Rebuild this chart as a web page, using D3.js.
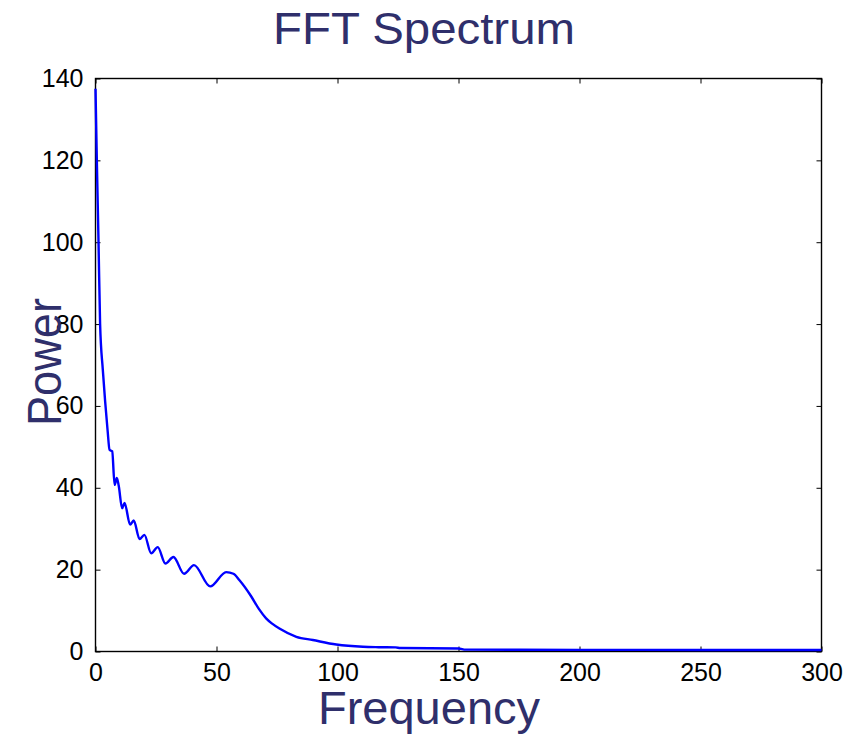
<!DOCTYPE html>
<html lang="en">
<head>
  <meta charset="UTF-8">
  <title>FFT Spectrum</title>
  <style>
    body { margin: 0; background: #fff; }
    svg text { font-family: 'Liberation Sans', Arial, sans-serif; }
  </style>
</head>
<body>
  <svg width="854" height="734"></svg>
  <script src="https://cdn.jsdelivr.net/npm/d3@7"></script>
  <script>
    // values
    var freq = [0, 0.55, 1.25, 1.9, 3, 4, 5, 5.8, 6.9, 7.9, 8.8, 9.6, 11, 12, 14.3, 15.8,
      18.2, 20.2, 23, 25.7, 28.9, 32.2, 36.6, 40.7, 47.4, 54, 57, 59.5, 64.3, 67.5, 70.5,
      73, 76, 83, 89.8, 99.5, 110.5, 117, 124, 126, 150, 153, 200, 250, 300]
    var power = [137.5, 120, 100, 80, 69, 61, 54, 49.3, 48.9, 40.7, 42.4, 40.5, 35, 36.3, 31, 32,
      27.5, 28.5, 24, 25.5, 21.5, 23.1, 19, 21.1, 15.9, 19.4, 19, 17.4, 13.5, 10.4, 8.1,
      6.8, 5.6, 3.6, 2.8, 1.7, 1.15, 1.05, 1.0, 0.85, 0.75, 0.45, 0.4, 0.38, 0.35]
    var xTicks = [0, 50, 100, 150, 200, 250, 300]
    var yTicks = [0, 20, 40, 60, 80, 100, 120, 140]

    var svg = d3.select('svg')
    var plotL = 95.5, plotR = 821.5, plotT = 78.5, plotB = 651.5
    var navy = '#2f2f6b'

    var x = d3.scaleLinear().domain([0, 300]).range([plotL, plotR])
    var y = d3.scaleLinear().domain([0, 140]).range([plotB, plotT])

    // tick marks point inward, on all four sides
    svg.append('g')
      .attr('transform', 'translate(0,' + plotB + ')')
      .call(d3.axisBottom(x).tickValues(xTicks).tickSizeInner(-5).tickSizeOuter(0).tickPadding(12))
    svg.append('g')
      .attr('transform', 'translate(0,' + plotT + ')')
      .call(d3.axisTop(x).tickValues(xTicks).tickSizeInner(-5).tickSizeOuter(0).tickFormat(''))
    svg.append('g')
      .attr('transform', 'translate(' + plotL + ',0)')
      .call(d3.axisLeft(y).tickValues(yTicks).tickSizeInner(-5).tickSizeOuter(0).tickPadding(12))
    svg.append('g')
      .attr('transform', 'translate(' + plotR + ',0)')
      .call(d3.axisRight(y).tickValues(yTicks).tickSizeInner(-5).tickSizeOuter(0).tickFormat(''))

    svg.selectAll('.domain').remove()
    svg.selectAll('.tick line').attr('stroke', '#000')
    svg.selectAll('.tick text')
      .attr('font-size', 25)
      .attr('fill', '#000')
      .style('font-family', "'Liberation Sans', Arial, sans-serif")

    svg.append('rect')
      .attr('x', plotL).attr('y', plotT)
      .attr('width', plotR - plotL).attr('height', plotB - plotT)
      .attr('fill', 'none').attr('stroke', '#000').attr('stroke-width', 1.4)

    var line = d3.line()
      .x(function(d) { return x(d[0]) })
      .y(function(d) { return y(d[1]) })
      .curve(d3.curveMonotoneX)

    svg.append('path')
      .datum(d3.zip(freq, power))
      .attr('d', line)
      .attr('fill', 'none')
      .attr('stroke', '#0000ff')
      .attr('stroke-width', 2.4)

    // titles
    svg.append('text')
      .attr('x', 424).attr('y', 44)
      .attr('text-anchor', 'middle')
      .attr('font-size', 44)
      .attr('textLength', 302)
      .attr('lengthAdjust', 'spacingAndGlyphs')
      .attr('fill', navy)
      .text('FFT Spectrum')

    svg.append('text')
      .attr('x', 429).attr('y', 724)
      .attr('text-anchor', 'middle')
      .attr('font-size', 47)
      .attr('fill', navy)
      .text('Frequency')

    svg.append('text')
      .attr('transform', 'translate(61,362) rotate(-90)')
      .attr('text-anchor', 'middle')
      .attr('font-size', 48)
      .attr('textLength', 128)
      .attr('lengthAdjust', 'spacingAndGlyphs')
      .attr('fill', navy)
      .text('Power')
  </script>
</body>
</html>
